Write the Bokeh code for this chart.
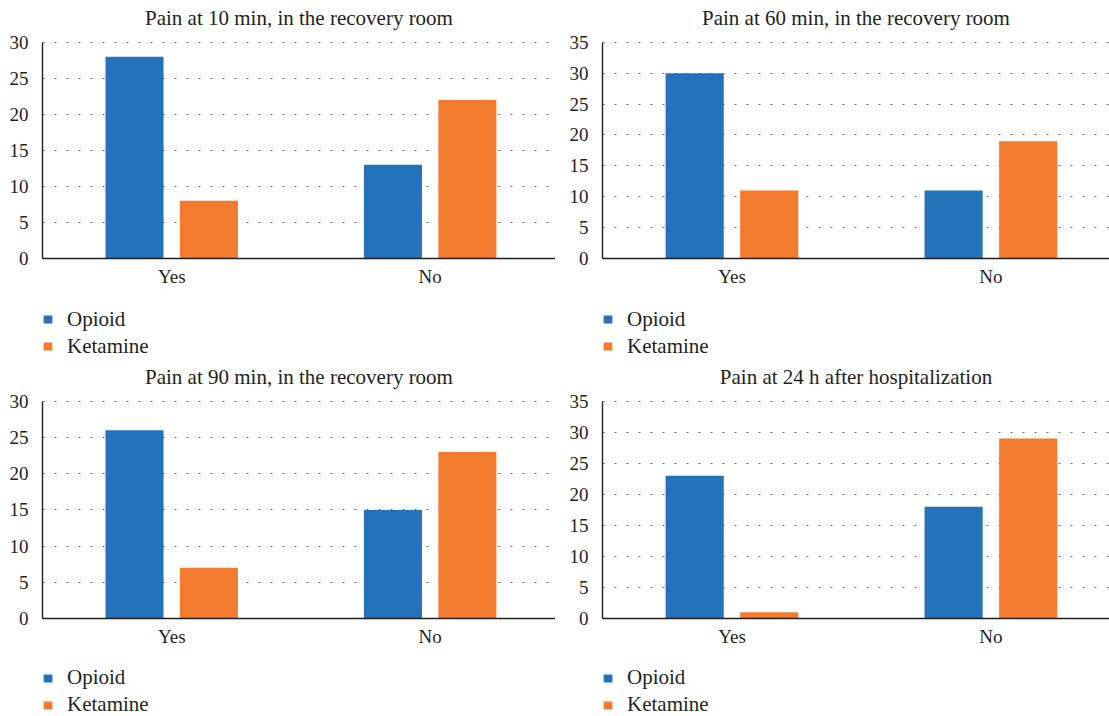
from bokeh.plotting import figure
from bokeh.models import (Range1d, Legend, LegendItem, ColumnDataSource, SingleIntervalTicker,
                          FixedTicker, LinearAxis)
from bokeh.transform import dodge
from bokeh.layouts import column, row
from bokeh.embed import file_html
from bokeh.resources import INLINE

# ---- data ----
categories = ["Yes", "No"]
series_names = ["Opioid", "Ketamine"]
titles = [
    "Pain at 10 min, in the recovery room",
    "Pain at 60 min, in the recovery room",
    "Pain at 90 min, in the recovery room",
    "Pain at 24 h after hospitalization",
]
opioid_10min = [28, 13]
ketamine_10min = [8, 22]
opioid_60min = [30, 11]
ketamine_60min = [11, 19]
opioid_90min = [26, 15]
ketamine_90min = [7, 23]
opioid_24h = [23, 18]
ketamine_24h = [1, 29]
y_max = [30, 35, 30, 35]
y_step = 5

# category slots: one unit per category, label at the middle of its slot
cat_x = [i + 0.5 for i in range(len(categories))]

# ---- style ----
FONT = "Liberation Serif"
COLORS = ["#2372BA", "#F37B30"]
TEXT = "#231F20"
AXIS = "#231F20"


def make_panel(title, opioid, ketamine, ymax, width, height, b_left, b_top, b_bottom,
               x_end, leg_height, leg_vy, leg_spacing):
    src = ColumnDataSource(dict(x=cat_x, cat=categories, opioid=opioid, ketamine=ketamine))
    p = figure(x_range=Range1d(0, x_end),
               y_range=Range1d(0, ymax * 1.004),
               width=width, height=height, output_backend="svg",
               toolbar_location=None, tools="", title=None,
               min_border_left=b_left, min_border_right=0,
               min_border_top=b_top, min_border_bottom=b_bottom)
    p.vbar(x=dodge("x", -0.144), top="opioid", width=0.2245,
           source=src, fill_color=COLORS[0], line_color=None)
    p.vbar(x=dodge("x", 0.144), top="ketamine", width=0.2245,
           source=src, fill_color=COLORS[1], line_color=None)

    # title drawn as the label of a bare top axis (precise vertical placement)
    top_ax = LinearAxis(axis_label=title, ticker=FixedTicker(ticks=[]),
                        axis_line_color=None, major_tick_line_color=None,
                        minor_tick_line_color=None, major_tick_out=0, major_tick_in=0,
                        major_label_standoff=0,
                        axis_label_standoff=12, axis_label_text_font=FONT,
                        axis_label_text_font_size="21px", axis_label_text_font_style="normal",
                        axis_label_text_color=TEXT)
    p.add_layout(top_ax, "above")

    p.outline_line_color = None
    p.xgrid.grid_line_color = None
    p.ygrid.grid_line_color = "#6a6a6a"
    p.ygrid.grid_line_dash = "2 10"
    p.ygrid.grid_line_width = 1.2

    p.yaxis.ticker = SingleIntervalTicker(interval=y_step)
    p.yaxis.bounds = (0, ymax)
    p.below[0].ticker = FixedTicker(ticks=cat_x)
    p.below[0].major_label_overrides = {x: c for x, c in zip(cat_x, categories)}
    for ax in (p.below[0], p.left[0]):
        ax.axis_line_color = AXIS
        ax.axis_line_width = 1.4
        ax.major_tick_line_color = None
        ax.minor_tick_line_color = None
        ax.major_tick_out = 0
        ax.major_tick_in = 0
        ax.major_label_text_font = FONT
        ax.major_label_text_color = TEXT
        ax.major_label_text_font_size = "19px"
    p.left[0].major_label_standoff = 10
    p.below[0].major_label_standoff = 7

    # legend strip below the chart; its proxy bars are hidden, only their legend swatches show
    q = figure(width=width, height=leg_height, output_backend="svg",
               toolbar_location=None, tools="", title=None,
               x_range=Range1d(0, x_end), y_range=Range1d(-2, -1),
               x_axis_location=None, y_axis_location=None,
               min_border=0)
    q.outline_line_color = None
    q.grid.grid_line_color = None
    rs = []
    for key, c in zip(["opioid", "ketamine"], COLORS):
        r = q.vbar(x="x", top=key, width=0.2, source=src, fill_color=c, line_color=None)
        r.visible = False
        rs.append(r)
    legend = Legend(items=[LegendItem(label=n, renderers=[r]) for n, r in zip(series_names, rs)],
                    location=(0, leg_vy), orientation="vertical",
                    glyph_width=11, glyph_height=10, label_height=24,
                    label_standoff=14, spacing=leg_spacing, padding=0, margin=0,
                    border_line_color=None, background_fill_alpha=0,
                    inactive_fill_alpha=0,
                    label_text_font=FONT, label_text_font_size="21px",
                    label_text_color=TEXT)
    q.add_layout(legend)
    return column(p, q)


# left column: frame 42..555 px, right column: frame 602..1109 px (same slot width ~258 px)
c1 = make_panel(titles[0], opioid_10min, ketamine_10min, y_max[0], 555, 290, 42, 41, 32, 1.985, 70, 1.5, 2)
c2 = make_panel(titles[1], opioid_60min, ketamine_60min, y_max[1], 554, 290, 47, 41, 32, 1.958, 70, 1.5, 2)
c3 = make_panel(titles[2], opioid_90min, ketamine_90min, y_max[2], 555, 290, 42, 40, 32, 1.985, 66, -1, 2)
c4 = make_panel(titles[3], opioid_24h, ketamine_24h, y_max[3], 554, 290, 47, 40, 32, 1.958, 66, -1, 2)

layout = column(row(c1, c2), row(c3, c4))
open("out.html", "w").write(file_html(layout, INLINE))
